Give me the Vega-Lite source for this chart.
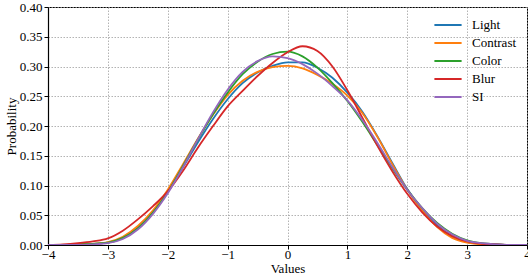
{
  "$schema": "https://vega.github.io/schema/vega-lite/v6.json",
  "width": 479,
  "height": 238,
  "autosize": {"type": "none"},
  "padding": {"left": 48, "top": 7, "right": 1, "bottom": 32},
  "background": "white",
  "config": {
    "font": "Liberation Serif",
    "view": {"stroke": "#000", "strokeWidth": 1},
    "axis": {
      "labelFont": "Liberation Serif",
      "titleFont": "Liberation Serif",
      "labelFontSize": 13,
      "titleFontSize": 13,
      "titleFontWeight": "normal",
      "labelColor": "#000",
      "titleColor": "#000",
      "domainColor": "#000",
      "domainWidth": 1.2,
      "tickColor": "#000",
      "tickSize": 4,
      "tickWidth": 1,
      "gridColor": "#a0a0a0",
      "gridDash": [1.5, 1.5],
      "gridWidth": 0.8
    },
    "legend": {
      "labelFont": "Liberation Serif",
      "labelFontSize": 13,
      "labelColor": "#000"
    }
  },
  "data": {
    "values": [
      {"x": -4, "v": 0, "s": "Light"}, {"x": -3.75, "v": 0, "s": "Light"}, {"x": -3.5, "v": 0.001, "s": "Light"}, {"x": -3.25, "v": 0.002, "s": "Light"}, {"x": -3, "v": 0.004, "s": "Light"}, {"x": -2.75, "v": 0.012, "s": "Light"}, {"x": -2.5, "v": 0.029, "s": "Light"}, {"x": -2.25, "v": 0.055, "s": "Light"}, {"x": -2, "v": 0.09, "s": "Light"}, {"x": -1.75, "v": 0.13, "s": "Light"}, {"x": -1.5, "v": 0.172, "s": "Light"}, {"x": -1.25, "v": 0.211, "s": "Light"}, {"x": -1, "v": 0.245, "s": "Light"}, {"x": -0.75, "v": 0.272, "s": "Light"}, {"x": -0.5, "v": 0.29, "s": "Light"}, {"x": -0.25, "v": 0.301, "s": "Light"}, {"x": 0, "v": 0.307, "s": "Light"}, {"x": 0.25, "v": 0.307, "s": "Light"}, {"x": 0.5, "v": 0.298, "s": "Light"}, {"x": 0.75, "v": 0.281, "s": "Light"}, {"x": 1, "v": 0.256, "s": "Light"}, {"x": 1.25, "v": 0.224, "s": "Light"}, {"x": 1.5, "v": 0.183, "s": "Light"}, {"x": 1.75, "v": 0.138, "s": "Light"}, {"x": 2, "v": 0.094, "s": "Light"}, {"x": 2.25, "v": 0.06, "s": "Light"}, {"x": 2.5, "v": 0.033, "s": "Light"}, {"x": 2.75, "v": 0.015, "s": "Light"}, {"x": 3, "v": 0.005, "s": "Light"}, {"x": 3.25, "v": 0.002, "s": "Light"}, {"x": 3.5, "v": 0.001, "s": "Light"}, {"x": 3.75, "v": 0, "s": "Light"}, {"x": 4, "v": 0, "s": "Light"},
      {"x": -4, "v": 0, "s": "Contrast"}, {"x": -3.75, "v": 0, "s": "Contrast"}, {"x": -3.5, "v": 0.001, "s": "Contrast"}, {"x": -3.25, "v": 0.002, "s": "Contrast"}, {"x": -3, "v": 0.005, "s": "Contrast"}, {"x": -2.75, "v": 0.014, "s": "Contrast"}, {"x": -2.5, "v": 0.032, "s": "Contrast"}, {"x": -2.25, "v": 0.058, "s": "Contrast"}, {"x": -2, "v": 0.093, "s": "Contrast"}, {"x": -1.75, "v": 0.135, "s": "Contrast"}, {"x": -1.5, "v": 0.178, "s": "Contrast"}, {"x": -1.25, "v": 0.218, "s": "Contrast"}, {"x": -1, "v": 0.252, "s": "Contrast"}, {"x": -0.75, "v": 0.276, "s": "Contrast"}, {"x": -0.5, "v": 0.291, "s": "Contrast"}, {"x": -0.25, "v": 0.299, "s": "Contrast"}, {"x": 0, "v": 0.301, "s": "Contrast"}, {"x": 0.25, "v": 0.297, "s": "Contrast"}, {"x": 0.5, "v": 0.286, "s": "Contrast"}, {"x": 0.75, "v": 0.271, "s": "Contrast"}, {"x": 1, "v": 0.251, "s": "Contrast"}, {"x": 1.25, "v": 0.222, "s": "Contrast"}, {"x": 1.5, "v": 0.182, "s": "Contrast"}, {"x": 1.75, "v": 0.136, "s": "Contrast"}, {"x": 2, "v": 0.093, "s": "Contrast"}, {"x": 2.25, "v": 0.058, "s": "Contrast"}, {"x": 2.5, "v": 0.03, "s": "Contrast"}, {"x": 2.75, "v": 0.012, "s": "Contrast"}, {"x": 3, "v": 0.004, "s": "Contrast"}, {"x": 3.25, "v": 0.001, "s": "Contrast"}, {"x": 3.5, "v": 0, "s": "Contrast"}, {"x": 3.75, "v": 0, "s": "Contrast"}, {"x": 4, "v": 0, "s": "Contrast"},
      {"x": -4, "v": 0, "s": "Color"}, {"x": -3.75, "v": 0, "s": "Color"}, {"x": -3.5, "v": 0.001, "s": "Color"}, {"x": -3.25, "v": 0.002, "s": "Color"}, {"x": -3, "v": 0.004, "s": "Color"}, {"x": -2.75, "v": 0.012, "s": "Color"}, {"x": -2.5, "v": 0.028, "s": "Color"}, {"x": -2.25, "v": 0.054, "s": "Color"}, {"x": -2, "v": 0.089, "s": "Color"}, {"x": -1.75, "v": 0.132, "s": "Color"}, {"x": -1.5, "v": 0.177, "s": "Color"}, {"x": -1.25, "v": 0.219, "s": "Color"}, {"x": -1, "v": 0.256, "s": "Color"}, {"x": -0.75, "v": 0.287, "s": "Color"}, {"x": -0.5, "v": 0.308, "s": "Color"}, {"x": -0.25, "v": 0.321, "s": "Color"}, {"x": 0, "v": 0.325, "s": "Color"}, {"x": 0.25, "v": 0.317, "s": "Color"}, {"x": 0.5, "v": 0.298, "s": "Color"}, {"x": 0.75, "v": 0.272, "s": "Color"}, {"x": 1, "v": 0.242, "s": "Color"}, {"x": 1.25, "v": 0.207, "s": "Color"}, {"x": 1.5, "v": 0.168, "s": "Color"}, {"x": 1.75, "v": 0.129, "s": "Color"}, {"x": 2, "v": 0.093, "s": "Color"}, {"x": 2.25, "v": 0.062, "s": "Color"}, {"x": 2.5, "v": 0.037, "s": "Color"}, {"x": 2.75, "v": 0.019, "s": "Color"}, {"x": 3, "v": 0.008, "s": "Color"}, {"x": 3.25, "v": 0.003, "s": "Color"}, {"x": 3.5, "v": 0.001, "s": "Color"}, {"x": 3.75, "v": 0, "s": "Color"}, {"x": 4, "v": 0, "s": "Color"},
      {"x": -4, "v": 0, "s": "Blur"}, {"x": -3.75, "v": 0.001, "s": "Blur"}, {"x": -3.5, "v": 0.003, "s": "Blur"}, {"x": -3.25, "v": 0.006, "s": "Blur"}, {"x": -3, "v": 0.011, "s": "Blur"}, {"x": -2.75, "v": 0.024, "s": "Blur"}, {"x": -2.5, "v": 0.043, "s": "Blur"}, {"x": -2.25, "v": 0.065, "s": "Blur"}, {"x": -2, "v": 0.09, "s": "Blur"}, {"x": -1.75, "v": 0.124, "s": "Blur"}, {"x": -1.5, "v": 0.163, "s": "Blur"}, {"x": -1.25, "v": 0.199, "s": "Blur"}, {"x": -1, "v": 0.233, "s": "Blur"}, {"x": -0.75, "v": 0.259, "s": "Blur"}, {"x": -0.5, "v": 0.284, "s": "Blur"}, {"x": -0.25, "v": 0.306, "s": "Blur"}, {"x": 0, "v": 0.324, "s": "Blur"}, {"x": 0.25, "v": 0.334, "s": "Blur"}, {"x": 0.5, "v": 0.326, "s": "Blur"}, {"x": 0.75, "v": 0.3, "s": "Blur"}, {"x": 1, "v": 0.26, "s": "Blur"}, {"x": 1.25, "v": 0.214, "s": "Blur"}, {"x": 1.5, "v": 0.167, "s": "Blur"}, {"x": 1.75, "v": 0.124, "s": "Blur"}, {"x": 2, "v": 0.086, "s": "Blur"}, {"x": 2.25, "v": 0.055, "s": "Blur"}, {"x": 2.5, "v": 0.031, "s": "Blur"}, {"x": 2.75, "v": 0.015, "s": "Blur"}, {"x": 3, "v": 0.006, "s": "Blur"}, {"x": 3.25, "v": 0.002, "s": "Blur"}, {"x": 3.5, "v": 0.001, "s": "Blur"}, {"x": 3.75, "v": 0, "s": "Blur"}, {"x": 4, "v": 0, "s": "Blur"},
      {"x": -4, "v": 0, "s": "SI"}, {"x": -3.75, "v": 0, "s": "SI"}, {"x": -3.5, "v": 0, "s": "SI"}, {"x": -3.25, "v": 0.001, "s": "SI"}, {"x": -3, "v": 0.003, "s": "SI"}, {"x": -2.75, "v": 0.01, "s": "SI"}, {"x": -2.5, "v": 0.026, "s": "SI"}, {"x": -2.25, "v": 0.052, "s": "SI"}, {"x": -2, "v": 0.087, "s": "SI"}, {"x": -1.75, "v": 0.13, "s": "SI"}, {"x": -1.5, "v": 0.177, "s": "SI"}, {"x": -1.25, "v": 0.222, "s": "SI"}, {"x": -1, "v": 0.261, "s": "SI"}, {"x": -0.75, "v": 0.291, "s": "SI"}, {"x": -0.5, "v": 0.309, "s": "SI"}, {"x": -0.25, "v": 0.317, "s": "SI"}, {"x": 0, "v": 0.314, "s": "SI"}, {"x": 0.25, "v": 0.304, "s": "SI"}, {"x": 0.5, "v": 0.288, "s": "SI"}, {"x": 0.75, "v": 0.267, "s": "SI"}, {"x": 1, "v": 0.243, "s": "SI"}, {"x": 1.25, "v": 0.21, "s": "SI"}, {"x": 1.5, "v": 0.172, "s": "SI"}, {"x": 1.75, "v": 0.131, "s": "SI"}, {"x": 2, "v": 0.093, "s": "SI"}, {"x": 2.25, "v": 0.062, "s": "SI"}, {"x": 2.5, "v": 0.036, "s": "SI"}, {"x": 2.75, "v": 0.018, "s": "SI"}, {"x": 3, "v": 0.007, "s": "SI"}, {"x": 3.25, "v": 0.003, "s": "SI"}, {"x": 3.5, "v": 0.001, "s": "SI"}, {"x": 3.75, "v": 0, "s": "SI"}, {"x": 4, "v": 0, "s": "SI"}
    ]
  },
  "mark": {"type": "line", "interpolate": "monotone", "strokeWidth": 1.8, "clip": true},
  "encoding": {
    "x": {
      "field": "x",
      "type": "quantitative",
      "scale": {"domain": [-4, 4], "nice": false, "zero": false},
      "axis": {"values": [-4, -3, -2, -1, 0, 1, 2, 3, 4], "format": "d", "title": "Values", "labelPadding": -1, "titlePadding": 1, "labelFlush": false}
    },
    "y": {
      "field": "v",
      "type": "quantitative",
      "scale": {"domain": [0, 0.4], "nice": false},
      "axis": {"values": [0, 0.05, 0.1, 0.15, 0.2, 0.25, 0.3, 0.35, 0.4], "format": ".2f", "title": "Probability", "labelPadding": 2, "titlePadding": 1, "labelFlush": false}
    },
    "color": {
      "field": "s",
      "type": "nominal",
      "sort": ["Light", "Contrast", "Color", "Blur", "SI"],
      "scale": {"domain": ["Light", "Contrast", "Color", "Blur", "SI"], "range": ["#1f77b4", "#ff7f0e", "#2ca02c", "#d62728", "#9467bd"]},
      "legend": {
        "title": null,
        "orient": "none",
        "legendX": 391,
        "legendY": 9,
        "symbolType": "M-1.7,0H1.7",
        "symbolSize": 256,
        "symbolStrokeWidth": 2,
        "labelOffset": 15,
        "rowPadding": 2,
        "padding": 0
      }
    }
  }
}
